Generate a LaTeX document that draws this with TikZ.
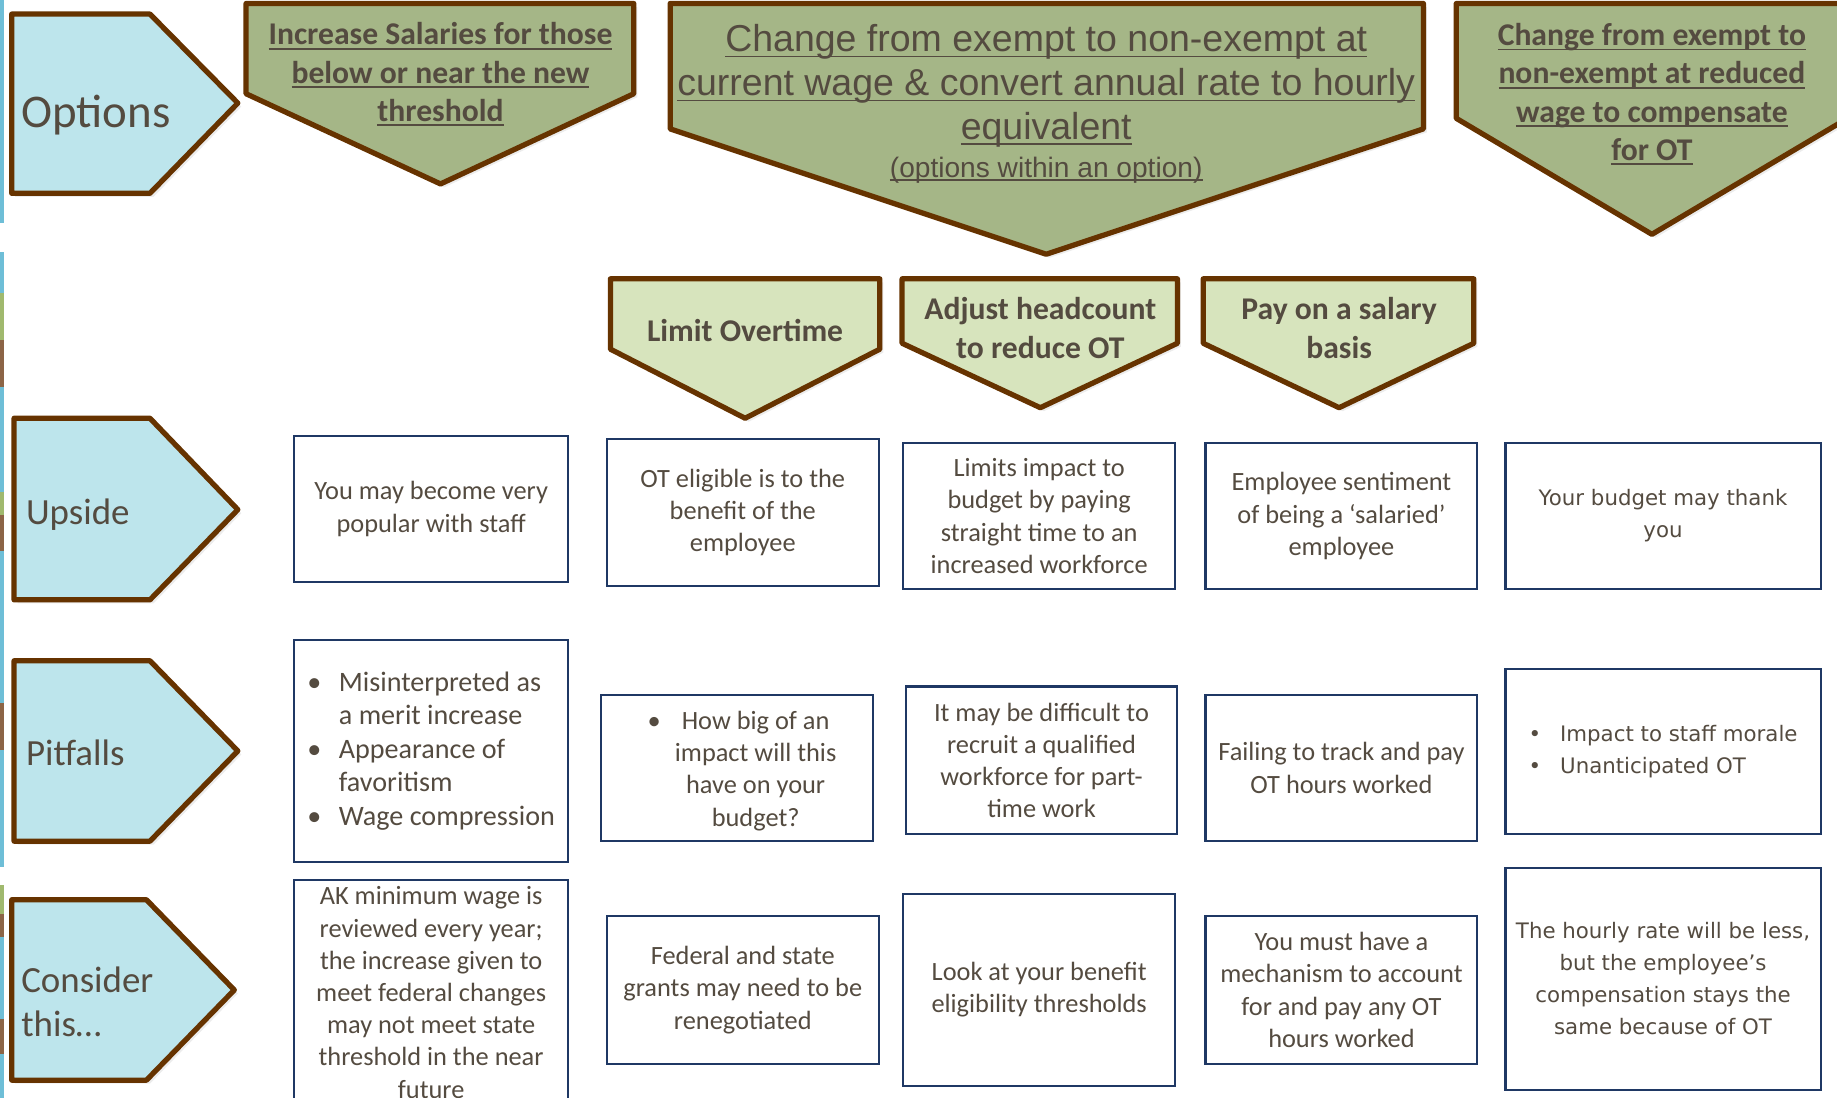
\documentclass[tikz,border=0pt]{standalone}
\usepackage{fontspec}
\setmainfont{Carlito}
\newfontfamily\arialfont{Liberation Sans}
\newfontfamily\verdfont{DejaVu Sans}
\usetikzlibrary{shadows}

\definecolor{brownc}{RGB}{102,51,0}
\definecolor{optblue}{RGB}{189,229,236}
\definecolor{darkgreen}{RGB}{165,182,135}
\definecolor{lightgreen}{RGB}{215,228,189}
\definecolor{navyc}{RGB}{31,56,100}
\definecolor{textc}{RGB}{84,75,64}
\definecolor{stripblue}{RGB}{110,190,215}
\definecolor{stripgreen}{RGB}{160,185,110}
\definecolor{stripbrown}{RGB}{140,100,70}

\newsavebox{\ulbox}
\newcommand{\ulx}[1]{\sbox{\ulbox}{#1}\rlap{\usebox{\ulbox}}\rule[-0.15em]{\wd\ulbox}{1.6pt}}
\newcommand{\bul}{\makebox[27pt][l]{\textbullet}}
\newcommand{\hangin}{\hspace*{27pt}}

\begin{document}
\begin{tikzpicture}
		[x=1pt,y=-1pt,
		rowtag/.style={draw=brownc,line width=4.5pt,fill=optblue,line join=round,
			drop shadow={shadow xshift=3pt,shadow yshift=-3pt,opacity=.15}},
		choice/.style={rowtag,fill=darkgreen},
		subchoice/.style={rowtag,fill=lightgreen},
		tag text/.style={anchor=west,align=left,inner sep=0,text=textc,
			font=\fontsize{31.5}{38}\selectfont},
		head text/.style={align=center,inner sep=0,text=textc,
			font=\bfseries\fontsize{27}{32.6}\selectfont},
		info/.style={draw=navyc,line width=1.8pt,fill=white,align=center,inner sep=0,
			text=textc,font=\fontsize{22.5}{27.5}\selectfont},
		wide info/.style={info,minimum width=269,font=\verdfont\fontsize{18.2}{27.3}\selectfont}]
		\useasboundingbox (0,0) rectangle (1568,937);
		\clip (0,0) rectangle (1568,937);
		
		% thin coloured strip on the left edge
		\foreach \ya/\yb/\cc in {0/190/stripblue,215/250/stripblue,250/290/stripgreen,
			290/330/stripbrown,330/420/stripblue,420/440/stripgreen,440/470/stripbrown,
			470/600/stripblue,600/640/stripbrown,640/740/stripblue,755/780/stripgreen,
			780/800/stripbrown,800/870/stripblue,870/900/stripbrown,900/937/stripblue}
		\fill[\cc] (0,\ya) rectangle (3,\yb);
		
		% row tags
		\draw[rowtag] (10,12) -- (128,12) -- (203,88) -- (128,165) -- (10,165) -- cycle;
		\draw[rowtag] (12,357) -- (128,357) -- (203,435) -- (128,512) -- (12,512) -- cycle;
		\draw[rowtag] (12,564) -- (128,564) -- (203,641) -- (128,718) -- (12,718) -- cycle;
		\draw[rowtag] (10,768) -- (125,768) -- (200,845) -- (125,922) -- (10,922) -- cycle;
		
		\node[tag text,font=\fontsize{40}{48}\selectfont] (opt) at (18,98) {Options};
		\node[tag text] (up) at (22,439) {Upside};
		\node[tag text] (pit) at (22,643) {Pitfalls};
		\node[tag text] (con) at (18,855) {Consider\\this…};
		
		% options
		\draw[choice] (210,3) -- (541,3) -- (541,80) -- (376,157) -- (210,80) -- cycle;
		\draw[choice] (572,3) -- (1215,3) -- (1215,110) -- (893,217) -- (572,110) -- cycle;
		\draw[choice] (1243,3) -- (1577,3) -- (1577,101) -- (1410,200) -- (1243,101) -- cycle;
		
		\node[head text] (g1) at (376,63.5)
		{\ulx{Increase Salaries for those}\\\ulx{below or near the new}\\\ulx{threshold}};
		\node[head text,font=\arialfont\fontsize{32}{37.5}\selectfont] (g2) at (893,73.5)
		{\ulx{Change from exempt to non-exempt at}\\
			\ulx{current wage \& convert annual rate to hourly}\\\ulx{equivalent}};
		\node[head text,font=\arialfont\fontsize{24}{28}\selectfont] (g2sub) at (893,145)
		{\ulx{(options within an option)}};
		\node[head text] (g3) at (1410,80.5)
		{\ulx{Change from exempt to}\\\ulx{non-exempt at reduced}\\
			\ulx{wage to compensate}\\\ulx{for OT}};
		
		% options within the option
		\draw[subchoice] (521,238) -- (751,238) -- (751,298) -- (636,357) -- (521,298) -- cycle;
		\draw[subchoice] (770,238) -- (1005,238) -- (1005,293) -- (888,348) -- (770,293) -- cycle;
		\draw[subchoice] (1027,238) -- (1258,238) -- (1258,293) -- (1143,348) -- (1027,293) -- cycle;
		
		\node[head text] (l1) at (636,282) {Limit Overtime};
		\node[head text] (l2) at (888,280) {Adjust headcount\\to reduce OT};
		\node[head text] (l3) at (1143,280) {Pay on a salary\\basis};
		
		% upside
		\node[info,minimum width=234,minimum height=125] (u1) at (368,434.5)
		{You may become very\\popular with staff};
		\node[info,minimum width=232,minimum height=125] (u2) at (634,437.5)
		{OT eligible is to the\\benefit of the\\employee};
		\node[info,minimum width=232,minimum height=125] (u3) at (887,440.5)
		{Limits impact to\\budget by paying\\straight time to an\\increased workforce};
		\node[info,minimum width=232,minimum height=125] (u4) at (1145,440.5)
		{Employee sentiment\\of being a ‘salaried’\\employee};
		\node[wide info,minimum height=125] (u5) at (1419.5,440.5)
		{Your budget may thank\\you};
		
		% pitfalls
		\node[info,align=left,minimum width=234,minimum height=190,
		font=\fontsize{24}{28.5}\selectfont] (p1) at (368,641)
		{\bul Misinterpreted as\\\hangin a merit increase\\\bul Appearance of\\
			\hangin favoritism\\\bul Wage compression};
		\node[info,minimum width=232,minimum height=125] (p2) at (629,655.5) {};
		\node[align=center,inner sep=0,text=textc,font=\fontsize{22.5}{27.5}\selectfont]
		(p2t) at (645,658)
		{\llap{\textbullet\hspace{18pt}}How big of an\\impact will this\\have on your\\budget?};
		\node[info,minimum width=232,minimum height=126] (p3) at (889,649)
		{It may be difficult to\\recruit a qualified\\workforce for part-\\time work};
		\node[info,minimum width=232,minimum height=125] (p4) at (1145,655.5)
		{Failing to track and pay\\OT hours worked};
		\node[wide info,align=left,minimum height=141] (p5) at (1419.5,641.5)
		{\bul Impact to staff morale\\\bul Unanticipated OT};
		
		% consider this
		\node[info,anchor=north,minimum width=234,inner ysep=6pt] (c1) at (368,750)
		{AK minimum wage is\\reviewed every year;\\the increase given to\\
			meet federal changes\\may not meet state\\threshold in the near\\future};
		\node[info,minimum width=232,minimum height=126] (c2) at (634,845)
		{Federal and state\\grants may need to be\\renegotiated};
		\node[info,minimum width=232,minimum height=164] (c3) at (887,845)
		{Look at your benefit\\eligibility thresholds};
		\node[info,minimum width=232,minimum height=126] (c4) at (1145,845)
		{You must have a\\mechanism to account\\for and pay any OT\\hours worked};
		\node[wide info,minimum height=189] (c5) at (1419.5,835.5)
		{The hourly rate will be less,\\but the employee’s\\compensation stays the\\same because of OT};
\end{tikzpicture}
\end{document}
